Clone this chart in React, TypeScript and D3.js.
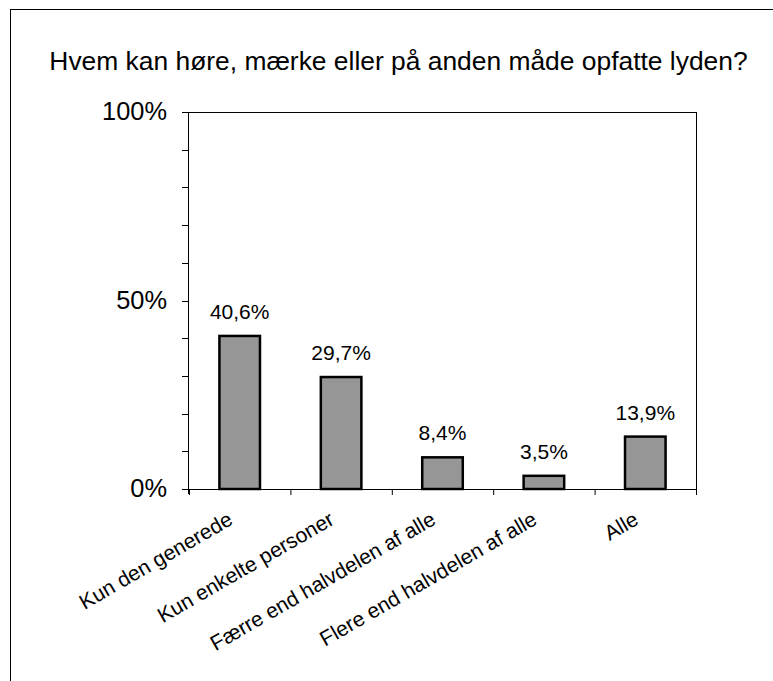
import React from "react";
import * as d3 from "d3";

const TITLE = "Hvem kan høre, mærke eller på anden måde opfatte lyden?";
const categories = [
  "Kun den generede",
  "Kun enkelte personer",
  "Færre end halvdelen af alle",
  "Flere end halvdelen af alle",
  "Alle",
];
const values = [0.406, 0.297, 0.084, 0.035, 0.139];
const valueLabels = ["40,6%", "29,7%", "8,4%", "3,5%", "13,9%"];
const yTickValues = [0, 0.1, 0.2, 0.3, 0.4, 0.5, 0.6, 0.7, 0.8, 0.9, 1];
const yLabelValues = [0, 0.5, 1];
const yLabelTexts = ["0%", "50%", "100%"];

const W = 773;
const H = 681;
const FONT = '"Liberation Sans", Arial, Helvetica, sans-serif';

export default function App() {
  const left = 189;
  const right = 696;
  const top = 112;
  const bottom = 489;

  const x = d3.scaleBand<string>().domain(categories).range([left, right]).padding(0);
  const y = d3.scaleLinear().domain([0, 1]).range([bottom, top]);
  const bw = x.bandwidth() * 0.4;

  const boundaries = categories.map((c) => x(c) as number).concat([right]);

  return (
    <svg
      width={W}
      height={H}
      style={{ position: "absolute", left: 0, top: 0, background: "#fff" }}
      fontFamily={FONT}
    >
      <rect x={10.5} y={9.5} width={900} height={900} fill="none" stroke="#000" strokeWidth={1} />
      <text x={398.5} y={70} textAnchor="middle" fontSize={26.4} fill="#000">
        {TITLE}
      </text>

      {/* plot frame */}
      <line x1={left} x2={right + 0.5} y1={top + 0.5} y2={top + 0.5} stroke="#000" strokeWidth={1} />
      <line x1={right + 0.5} x2={right + 0.5} y1={top} y2={bottom + 5} stroke="#000" strokeWidth={1} />

      {/* bars */}
      {categories.map((c, i) => {
        const cx = (x(c) as number) + x.bandwidth() / 2;
        const yt = y(values[i]);
        return (
          <g key={c}>
            <rect
              x={cx - bw / 2}
              y={yt}
              width={bw}
              height={bottom - yt}
              fill="#969696"
              stroke="#000"
              strokeWidth={2.5}
            />
            <text x={cx} y={yt - 17} textAnchor="middle" fontSize={21} fill="#000">
              {valueLabels[i]}
            </text>
            <text
              transform={`translate(${cx - 5.5},${523.5}) rotate(-30)`}
              textAnchor="end"
              fontSize={21}
              fill="#000"
            >
              {c}
            </text>
          </g>
        );
      })}

      {/* y axis */}
      <line x1={left - 0.5} x2={left - 0.5} y1={top} y2={bottom + 5} stroke="#000" strokeWidth={1} />
      {yTickValues.map((t) => (
        <line
          key={t}
          x1={left - 7}
          x2={left}
          y1={Math.round(y(t)) + 0.5}
          y2={Math.round(y(t)) + 0.5}
          stroke="#000"
          strokeWidth={1}
        />
      ))}
      {yLabelValues.map((t, i) => (
        <text
          key={t}
          x={167}
          y={y(t)}
          dy="0.33em"
          textAnchor="end"
          fontSize={25.4}
          fill="#000"
        >
          {yLabelTexts[i]}
        </text>
      ))}

      {/* x axis */}
      <line x1={left - 7} x2={right + 0.5} y1={bottom + 0.5} y2={bottom + 0.5} stroke="#000" strokeWidth={1} />
      {boundaries.map((b, i) => (
        <line key={i} x1={b + 0.5} x2={b + 0.5} y1={bottom} y2={bottom + 6} stroke="#000" strokeWidth={1} />
      ))}
    </svg>
  );
}
